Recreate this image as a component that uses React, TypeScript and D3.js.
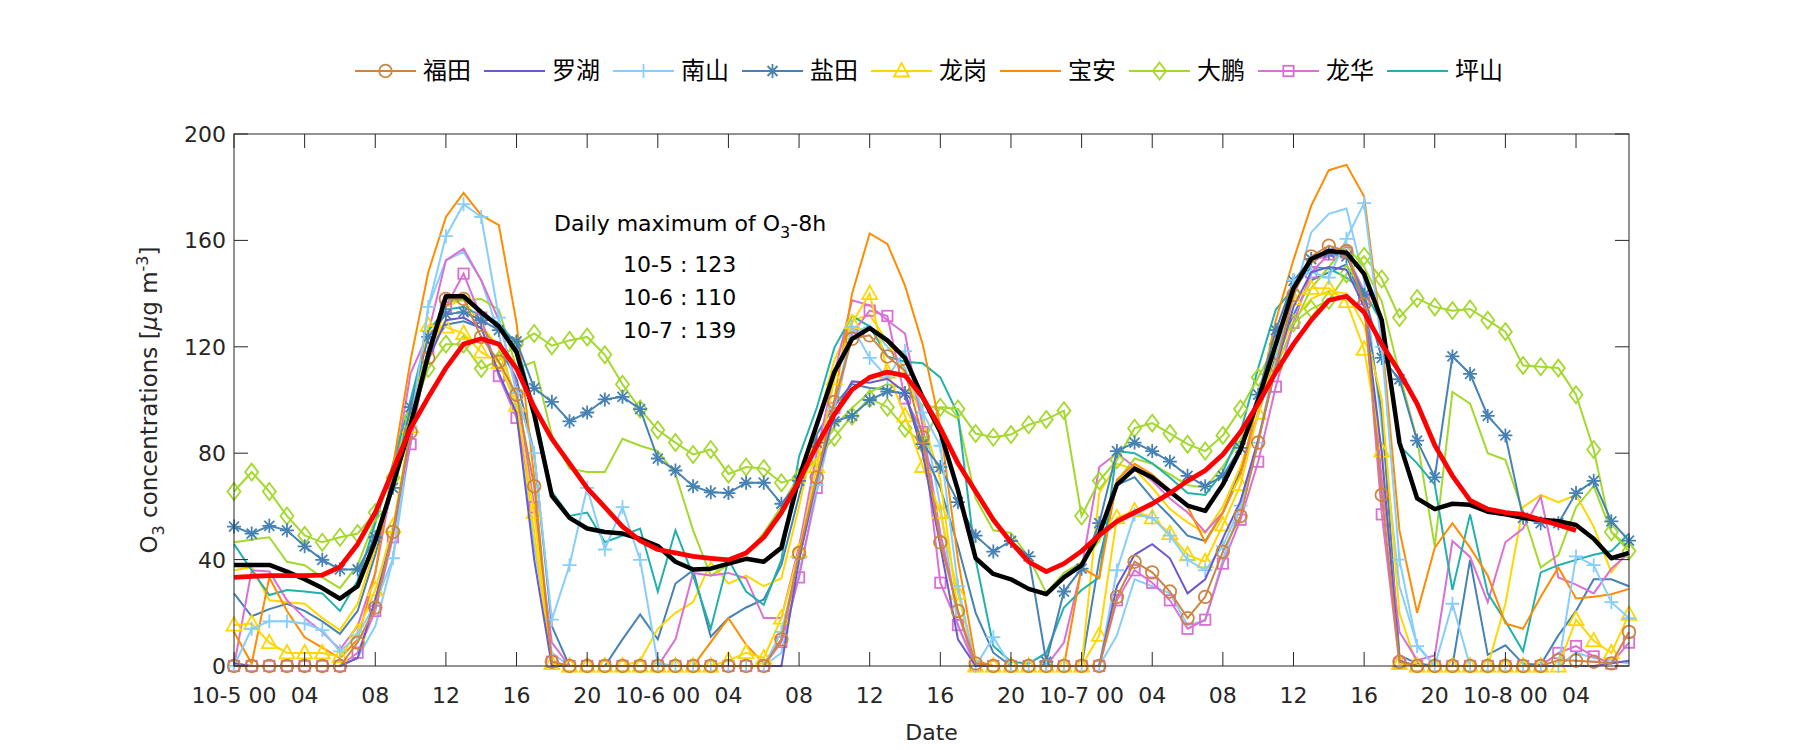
import React from 'react';
import * as d3 from 'd3';

// ---------- data (hourly, 10-5 00:00 = hour 0) ----------
const stationNames = ['福田', '罗湖', '南山', '盐田', '龙岗', '宝安', '大鹏', '龙华', '坪山'];
const dayLabels = ['10-5', '10-6', '10-7', '10-8'];
const yTicks = [0, 40, 80, 120, 160, 200];
const dailyMax = [['10-5', 123], ['10-6', 110], ['10-7', 139]];

const futian = [
  0,0,0,0,0,0,0,8.8,22,50.4,
  88,115.8,138,138,123.7,114.4,102,67.6,1.6,0,
  0,0,0,0,0,0,0,0,0,0,
  0,10,42.5,70.9,99.3,123,124.3,116.4,111,86,
  46.5,20.7,1,0,0,0,0,0,0,0,
  26,39.2,35.2,28,18,26,43,56.4,84,113,
  139.5,154,158,156,136,64.3,1.6,0,0,0,
  0,0,0,0,0,2.2,2,1.6,1,12.8];
const luohu = [
  1,0,0,0,0,0,0,3,25,50,
  88,115,130,131,127,110,95,40,0,0,
  0,0,0,0,0,0,0,0,0,0,
  0,0,40,70,95,107,106.5,108,103,80,
  45,10,0,0,0,0,0,0,0,0,
  30,41.8,45.8,40.5,27.3,32.6,48,62,85,112,
  135,148,150,149,135,80,2,0,0,0,
  0,0,0,0,0,0,0,0,1,2];
const nanshan = [
  0,14,16.8,16.8,16,13.5,5.5,11.5,23.4,40.5,
  90,135,161.6,173.6,168.8,131,102.6,80,17.4,37.9,
  67,43.8,59.7,39.9,1,0,0,0,0,0,
  0,12.8,40.5,68,97,127.6,115.8,108.5,118.4,95.3,
  82.8,30,0,10.8,0,0,0,0,0,0,
  36,57,55.7,49,39.9,36,45,60.3,84,115,
  145,148,146,160.6,174,120,40,7.5,0,23.4,
  0,0,0,0,0,0,41.2,37.9,24,18];
const yantian = [
  52.4,49.8,52.7,51,45,39.9,36.3,36.3,48.4,67,
  97.3,123.7,132.3,133,130,126.3,122,104.5,99.3,92,
  95.3,100.2,101.2,96.6,78,73.5,67.6,65.3,65,68.9,
  68.9,61,69.6,84,92,94,100,103.2,102.6,83.4,
  74.8,61.6,49,43,47,41.2,1.6,28,36.6,53.7,
  80.8,84,80.8,76.8,71.5,67.6,71.5,82,102,126.3,
  144.8,153,155.4,154,139.5,115.8,107.8,84.7,70.9,116.4,
  109.8,94,86.7,55.7,53.7,53.7,65,69.6,54.4,47.1];
const longgang = [
  15.4,16,8.8,4.9,4.9,4.9,3.5,12.8,28.6,52.4,
  90,128,127.4,125,118,114,98,57.7,0.9,0,
  0,0,0,0,0,0,0,0,2,5,
  3,18,43,75,108,129,140,110.5,94,75,
  57.7,27.3,0,0,0,0,0,0,0,11.5,
  55.7,58.3,55.7,49.8,41.8,39.2,53,68.2,95,120,
  138,142,142,137,119,80.8,0.9,0,0,0,
  0,0,0,0,0,0,17.4,9.5,4.9,19.4];
const baoan = [
  12.8,0.9,33.3,20.7,10.8,6.9,2.9,10,35,75,
  115,148,168.8,177.9,169.5,165.7,129,71,0.9,0,
  0,0,0,0,0,0,0,9,18,8,
  1,10,40,70,100,140,162.6,158.7,143,121,
  90,40,2,0,0,0,0,0,37,33,
  70,76,72,66,60,46.5,57.7,72,100,130,
  152.7,173,186.4,188.4,176.5,123.7,51,20,44.5,53.7,
  44.5,34,16,14,26,37,25.4,26,27,29];
const dapeng = [
  65.6,72.9,65.6,56.4,49.1,46.5,48.4,49.8,57.7,70.9,
  93.3,111.8,121,121,111.8,115,121,125,120.4,122.4,
  123.7,117,105.9,96.6,88.7,84,79.5,81.4,72.2,74.8,
  74.2,68.9,70.9,78,86,94,100.6,97.3,89.4,83.4,
  97.3,96.6,87.4,86,87,90.7,92.7,96,56.4,69.6,
  77.5,89.4,91.3,87.4,83.4,80.8,86.7,96.6,108.5,121,
  129,134.2,137.5,147.4,154,145.5,131,138.2,135,133.6,
  134.2,130,125.7,113,112.5,112,102,81.4,50.4,43.2];
const longhua = [
  0,0,0,0,0,0,0,5,20.7,48.4,
  83.4,119.7,135,147.5,131,109,93.3,59.7,1.6,0,
  0,0,0,0,0,0,0,0,0,0,
  0,9,33.3,67,97,125,133.6,131.6,100.6,88,
  31.3,15.4,0,0,0,0,0,0,0,0,
  24.7,36,31.3,24.7,14,17.4,38.5,55,76.8,105,
  129,148,154.7,155.4,138,57,0.9,0,0,0,
  0,0,0,0,0,4.9,7.5,3.6,0.9,8.8];
const pingshan = [
  45.8,36,26.7,28.6,28,27.3,20.7,32,53.7,76,
  100,126,134,135,131.6,129,121,97,65.6,56.4,
  57.7,46.5,49,51.7,28,51,34,14,40,28,
  23,40,78.8,97,119.7,131.6,127.6,116.4,114.4,113.8,
  108.5,94.6,40,7.5,1.6,0.9,4.9,22,28.6,33.3,
  80.8,80,76.2,70.9,65,64.3,73,88,112,134,
  142,150,149.4,146,141,129,82.8,76.2,68.2,28.6,
  57,27.3,16.8,5.5,35.2,37.9,39.9,41.8,43.2,49.8];

// additional unlabeled sites drawn without markers
const nanshan2 = [
  0,0,0,0,0,0,0,3,15,40,
  85,135,152.5,155.7,145,125,95,45,5,0,
  0,0,0,0,0,0,0,0,0,0,
  0,5,35,65,95,125,128,120,112,95,
  60,15,0,0,0,0,0,0,0,0,
  11.5,32.6,30,27.3,15.4,17,40,60,85,115,
  138,163,170,172,145,90,30,8,0,0,
  0,0,0,0,0,0,5,3,2,1];
const yantian2 = [
  27.3,18.7,21.4,23.4,20.7,16.8,12.1,20.7,41.8,67,
  94.6,118.4,128.3,129.6,127,120,108,80,15,0,
  0,0,10,19.4,10,31,36,11,18,22,
  25,38,64,87,98,106,104.5,104,102,81.4,
  67,45,20,5,0,0,0,0,0,40,
  68,71,63,56.4,49,47,57.7,73.5,94.6,117,
  132,145,148,151,137,95,4,1,0,0,
  39.9,4.2,7.8,0.9,0.5,11.5,20.7,32.6,32.6,30];
const longgang2 = [
  36,37.2,24.7,24,23.4,18,13.5,23.4,44.5,70.9,
  94.6,115,135,138,128,120,100,50,0,0,
  0,0,0,2,14,20,24,39,31,34,
  30,33,60,90,115,130,132,122,110,93,
  70,20,0,0,0,0,0,0,0,65,
  76,74,67,59,54,50,60,75,95,115,
  130,138,141,140,128,100,20,0,0,0,
  0,0,23.4,59.7,64.3,61.6,64.3,52.4,35.2,43.8];
const dapeng2 = [
  46.5,47.5,48.4,39.2,37.9,33.3,29.3,37.9,55,73.5,
  97.3,118.4,137,137.5,138,134,112,114.4,86.7,74.2,
  72.9,72.9,85.4,82.8,80.8,72.2,51,34,38,42,
  50,60,72,82,90,97,103,106,104,98,
  97,93,63,51,50,41,27.5,35,39,47,
  69.5,78,76,72,68,67,75,85,98,112,
  128,142,150,158,150,137,110,85,45,103,
  98.6,80,77.5,57.7,37,41.8,59.7,67.6,50.4,44.5];
const longhua2 = [
  0,36,35.5,24.7,18,12.8,6.2,15,35,70,
  110,125,152.5,156.9,145,130,105,60,8.8,0,
  0,0,0,0,0,10,35,34,35,33,
  18,18,45,80,110,137.5,135.6,130,125,90,
  50,20,0,0,0,0,0,8.8,36.6,74.8,
  80,74.8,69.6,63,57.7,50.4,57.7,72,95,120,
  140,152.7,154,154.7,141,70,12.8,2.2,4,47,
  41,24,46.5,51.7,63.6,33.3,30.6,27.3,36.6,42.5];

const cityMean = [
  38,38,38,35.5,32.6,29.3,25.3,30,47,68,
  90.7,117,139,139,133,127.6,118,94.6,64,55.7,
  51.7,50.4,49.8,47.8,45.1,39.2,36.3,36.6,38.5,40.3,
  39.2,44.5,70.9,90.7,110.5,123,127,122.4,115.8,101,
  88,66,40.5,34.6,32.6,29,27,33.3,37.9,49.8,
  68.2,74.2,70.9,65.6,60.3,58.3,68.2,81.4,100,121,
  142,153,156,155.4,147.4,130,84,63,59,61,
  60.6,58,57,55.7,55,54.4,53,47.8,40.5,42.5];
const o3_8h = [
  33.3,33.7,34,34,34,34.2,37.2,45.8,57.7,73.5,
  89.4,101,112,121,123,121,111.8,97.3,85.4,76.2,
  66.9,59.7,52.4,47.1,43.8,42.5,41.2,40.5,39.9,42.5,
  48.4,57.7,69.6,82.8,94.6,103.9,108.5,110.5,109.2,101,
  89.4,76.2,65.6,55,46.5,39.2,35.5,38.5,43.2,49.1,
  54.4,57.7,61,65,69.6,73.5,79.5,88,98.6,110.5,
  121,130,137.5,139,133,121,110.5,98.6,83,71.5,
  62.3,59,57.7,57,55,53,51];

const stationData = [futian, luohu, nanshan, yantian, longgang, baoan, dapeng, longhua, pingshan];
const stationColors = ['#cd853f', '#6a5acd', '#87cefa', '#4682b4', '#ffd700', '#ff8c00', '#a3d92c', '#da70d6', '#20b2aa'];
const stationMarkers = ['o', '', '+', '*', '^', '', 'd', 's', ''];
const extraData = [nanshan2, yantian2, longgang2, dapeng2, longhua2];
const extraColors = ['#87cefa', '#4682b4', '#ffd700', '#a3d92c', '#da70d6'];

// ---------- layout ----------
const W = 1800, H = 750;
const L = 234, R = 1629, T = 134, B = 666;
const x = d3.scaleLinear().domain([0, 79]).range([L, R]);
const y = d3.scaleLinear().domain([0, 200]).range([B, T]);
const xTicks = d3.range(0, 79, 4);
const xTickLabel = (h: number) => {
  const hh = h % 24;
  if (hh === 0) return `${dayLabels[h / 24]} 00`;
  return hh < 10 ? `0${hh}` : `${hh}`;
};
const FONT = '"DejaVu Sans", "Liberation Sans", sans-serif';
const CJK = '"Noto Sans CJK SC", sans-serif';
const AX = '#262626';

const lineGen = d3.line<number>().x((_, i) => x(i)).y(d => y(d));

function Marker({ type, cx, cy, color }: { type: string; cx: number; cy: number; color: string }) {
  const sw = 1.8;
  const common = { stroke: color, strokeWidth: sw, fill: 'none' };
  switch (type) {
    case 'o':
      return <circle cx={cx} cy={cy} r={6.3} {...common} />;
    case '+':
      return <path d={`M${cx - 7},${cy}H${cx + 7}M${cx},${cy - 7}V${cy + 7}`} {...common} />;
    case '*': {
      const a = 7, b = 5;
      return <path d={`M${cx - a},${cy}H${cx + a}M${cx},${cy - a}V${cy + a}M${cx - b},${cy - b}L${cx + b},${cy + b}M${cx - b},${cy + b}L${cx + b},${cy - b}`} {...common} />;
    }
    case '^':
      return <path d={`M${cx},${cy - 8}L${cx + 7.5},${cy + 5.5}L${cx - 7.5},${cy + 5.5}Z`} {...common} />;
    case 'd':
      return <path d={`M${cx},${cy - 8.5}L${cx + 6.5},${cy}L${cx},${cy + 8.5}L${cx - 6.5},${cy}Z`} {...common} />;
    case 's':
      return <rect x={cx - 5.2} y={cy - 5.2} width={10.4} height={10.4} {...common} />;
    default:
      return null;
  }
}

export default function App() {
  const order = d3.range(stationData.length).reverse();
  const legendX0 = 355, legendStep = 129, legendY = 71;
  return (
    <svg width={W} height={H} style={{ display: 'block', background: '#fff', position: 'absolute', left: 0, top: 0 }}>
      <rect x={0} y={0} width={W} height={H} fill="#fff" />
      {/* extra unlabeled lines */}
      {extraData.map((d, i) => (
        <path key={'e' + i} d={lineGen(d) || ''} fill="none" stroke={extraColors[i]} strokeWidth={2} />
      ))}
      {/* stations */}
      {order.map(i => (
        <g key={'s' + i}>
          <path d={lineGen(stationData[i]) || ''} fill="none" stroke={stationColors[i]} strokeWidth={2} />
          {stationMarkers[i] && stationData[i].map((v, j) => (
            <Marker key={j} type={stationMarkers[i]} cx={x(j)} cy={y(v)} color={stationColors[i]} />
          ))}
        </g>
      ))}
      {/* city mean and 8h */}
      <path d={lineGen(cityMean) || ''} fill="none" stroke="#000" strokeWidth={4.5} strokeLinejoin="round" />
      <path d={lineGen(o3_8h) || ''} fill="none" stroke="#ff0000" strokeWidth={4.8} strokeLinejoin="round" />

      {/* axes box */}
      <rect x={L} y={T} width={R - L} height={B - T} fill="none" stroke={AX} strokeWidth={1} />
      {xTicks.map(h => (
        <g key={'xt' + h}>
          <line x1={x(h)} x2={x(h)} y1={B} y2={B - 14} stroke={AX} strokeWidth={1} />
          <line x1={x(h)} x2={x(h)} y1={T} y2={T + 14} stroke={AX} strokeWidth={1} />
          <text x={x(h)} y={703} textAnchor="middle" fontFamily={FONT} fontSize={22} fill={AX}>{xTickLabel(h)}</text>
        </g>
      ))}
      {yTicks.map(v => (
        <g key={'yt' + v}>
          <line x1={L} x2={L + 14} y1={y(v)} y2={y(v)} stroke={AX} strokeWidth={1} />
          <line x1={R} x2={R - 14} y1={y(v)} y2={y(v)} stroke={AX} strokeWidth={1} />
          <text x={L - 8} y={y(v) + 8} textAnchor="end" fontFamily={FONT} fontSize={22} fill={AX}>{v}</text>
        </g>
      ))}
      <text x={(L + R) / 2} y={740} textAnchor="middle" fontFamily={FONT} fontSize={22} fill={AX}>Date</text>
      <text transform={`translate(157,${(T + B) / 2}) rotate(-90)`} textAnchor="middle" fontFamily={FONT} fontSize={23} fill={AX}>
        O<tspan fontSize={16} dy={7}>3</tspan><tspan dy={-7}> concentrations [</tspan><tspan fontStyle="italic">μ</tspan>g m<tspan fontSize={16} dy={-9}>-3</tspan><tspan dy={9}>]</tspan>
      </text>

      {/* annotation */}
      <text x={554} y={231} fontFamily={FONT} fontSize={22} fill="#000">
        Daily maximum of O<tspan fontSize={16} dy={7}>3</tspan><tspan dy={-7}>-8h</tspan>
      </text>
      {dailyMax.map((d, i) => (
        <text key={'dm' + i} x={623} y={272 + i * 33} fontFamily={FONT} fontSize={22} fill="#000">{`${d[0]} : ${d[1]}`}</text>
      ))}

      {/* legend */}
      {stationNames.map((n, i) => {
        const lx = legendX0 + i * legendStep;
        return (
          <g key={'lg' + i}>
            <line x1={lx} x2={lx + 61} y1={legendY} y2={legendY} stroke={stationColors[i]} strokeWidth={2} />
            {stationMarkers[i] && <Marker type={stationMarkers[i]} cx={lx + 30.5} cy={legendY} color={stationColors[i]} />}
            <text x={lx + 68} y={legendY + 8} fontFamily={CJK} fontSize={24} fill="#000">{n}</text>
          </g>
        );
      })}
    </svg>
  );
}
